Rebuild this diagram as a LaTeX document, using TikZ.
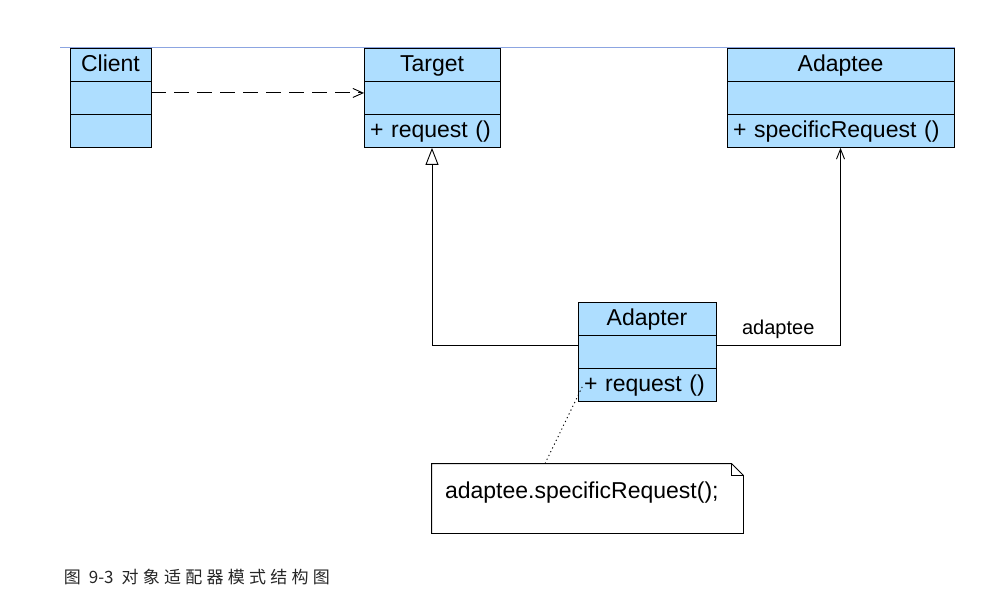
\documentclass[tikz,border=0pt]{standalone}
\usepackage{fontspec}
\setmainfont{Liberation Sans}
\newfontfamily\cjk[LetterSpace=25]{Noto Sans CJK SC}
\newfontfamily\cjknum{Noto Sans CJK SC}
\usetikzlibrary{positioning,arrows.meta}
\definecolor{classblue}{RGB}{174,222,255}
\definecolor{rulecolor}{RGB}{140,165,225}

\begin{document}
\begin{tikzpicture}[x=1pt, y=-1pt, line width=0.9pt]
    % Define styles for the class boxes
    \tikzstyle{cell} = [draw, rectangle, fill=classblue, minimum height=33.3pt, inner sep=0pt, outer sep=0pt, font=\fontsize{23}{26}\selectfont]
    \tikzstyle{head} = [cell, text height=15pt, text depth=2pt]
    \tikzstyle{oper} = [cell, align=left, inner xsep=6pt]
    \tikzstyle{note} = [rectangle, inner xsep=13pt, inner ysep=0pt, minimum height=69pt, align=left, text depth=16pt, font=\fontsize{23}{26}\selectfont]

    \useasboundingbox (0,0) rectangle (1008,604);

    % Rule at the top
    \draw[rulecolor, line width=0.8pt] (60,47) -- (955,47);

    % Draw the classes
    \foreach \name/\cx/\top/\w/\title/\op in {client/110.5/48/81/Client/{},
        target/432/48/136/Target/{+ request ()},
        adaptee/840.5/48/227/Adaptee/{+ specificRequest ()},
        adapter/647/302/138/Adapter/{+ request ()}} {
        \pgfmathsetmacro\tw{\w-12}
        \node(\name1)[head, minimum width=\w pt, anchor=north] at (\cx,\top) {\title};
        \node(\name2)[cell, minimum width=\w pt, below=0pt of \name1] {};
        \node(\name3)[oper, text width=\tw pt, below=0pt of \name2] {\op};
      }

    % Relations
    \draw[dash pattern=on 15pt off 8pt, -{Straight Barb[length=10pt, width=9pt]}]
    ([yshift=5pt]client2.east) -- ([yshift=5pt]target2.west);
    \draw[-{Triangle[open, length=17pt, width=13pt]}]
    ([yshift=7pt]adapter2.west) -| (target3.south);
    \draw[-{Straight Barb[length=10pt, width=8pt]}]
    ([yshift=7pt]adapter2.east) -| node[above=3pt, pos=0.25, font=\fontsize{20}{22}\selectfont] {adaptee} (adaptee3.south);

    % Note
    \node(note)[note, text width=285pt] at (587.5,498.5) {adaptee.specificRequest();};
    \draw (note.north west) -- ([xshift=-12pt]note.north east) -- ([yshift=-12pt]note.north east)
    -- (note.south east) -- (note.south west) -- cycle;
    \draw ([xshift=-12pt]note.north east) |- ([yshift=-12pt]note.north east);
    \draw[dash pattern=on 1.2pt off 3pt] ([xshift=-42.5pt]note.north) -- ([xshift=5pt]adapter3.west);

    \node(caption)[anchor=west, font=\cjk\fontsize{17}{20}\selectfont, text=black!85] at (60,577) {图 {\cjknum 9-3} 对象适配器模式结构图};
  \end{tikzpicture}
\end{document}
